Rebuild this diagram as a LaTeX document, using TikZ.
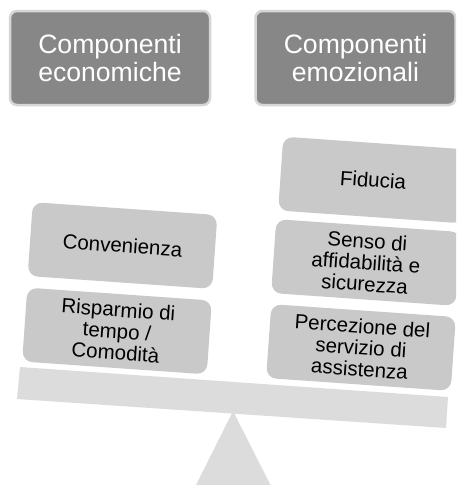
\documentclass[tikz,border=0pt]{standalone}
\usepackage{fontspec}
\setmainfont{Liberation Sans}
\definecolor{headfill}{HTML}{878787}
\definecolor{headedge}{HTML}{D6D6D6}
\definecolor{boxfill}{HTML}{C9C9C9}
\definecolor{basefill}{HTML}{DCDCDC}
\tikzset{
  headbox/.style={draw=headedge,line width=2.5pt,fill=headfill,rounded corners=7pt,minimum width=200pt,minimum height=94pt,inner sep=0pt,text=white,align=center,font=\fontsize{26.6}{27.5}\selectfont},
  itembox/.style={fill=boxfill,rounded corners=10pt,minimum width=185pt,minimum height=74pt,inner sep=0pt,text=black,align=center,rotate=-4,font=\fontsize{20.5}{21.5}\selectfont},
  basepart/.style={fill=basefill,draw=none}
}
\begin{document}
\begin{tikzpicture}[x=1pt,y=-1pt]
\useasboundingbox (0,0) rectangle (456,485);
\clip (0,0) rectangle (456,485);
\fill[white] (0,0) rectangle (456,485);
\node[headbox] (econ) at (110,58) {Componenti\\economiche};
\node[headbox] (emo) at (355.5,58) {Componenti\\emozionali};
\fill[basepart] (233,411) -- (270.5,485) -- (196,485) -- cycle;
\fill[basepart] (20,367) -- (448,397) -- (446,428) -- (17,399) -- cycle;
\node[itembox] (conv) at (122.5,245.5) {Convenienza};
\node[itembox] (risp) at (117,331) {Risparmio di\\tempo /\\Comodità};
\node[itembox] (fid) at (373,180) {Fiducia};
\node[itembox] (senso) at (366,262.5) {Senso di\\affidabilità e\\sicurezza};
\node[itembox] (perc) at (361,347.5) {Percezione del\\servizio di\\assistenza};
\end{tikzpicture}
\end{document}
